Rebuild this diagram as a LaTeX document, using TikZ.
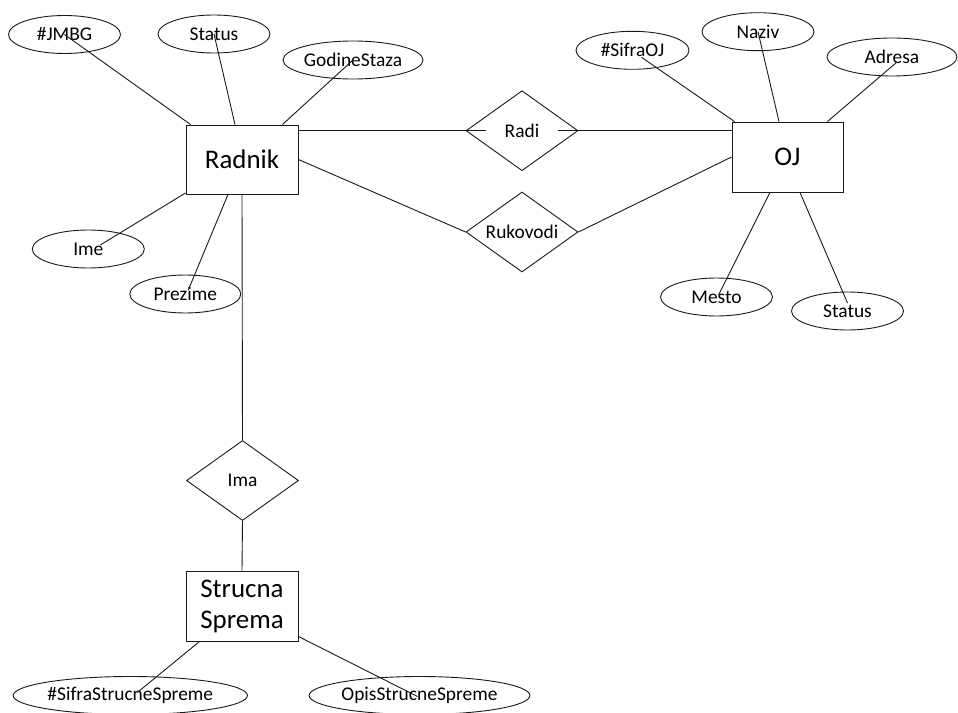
\documentclass[tikz,border=0pt]{standalone}
\usepackage{fontspec}
\setmainfont{Carlito}
\usetikzlibrary{shapes.geometric}
\begin{document}
\begin{tikzpicture}[x=1bp, y=-1bp, line width=0.9bp, draw=black!90, text=black,
  entity/.style={draw, rectangle, inner sep=0pt, align=center,
    font=\fontsize{27}{31}\selectfont},
  attr/.style={draw, ellipse, inner sep=0pt, minimum height=38bp,
    font=\fontsize{19.5}{22}\selectfont},
  rel/.style={draw, diamond, inner sep=0pt, minimum width=112bp, minimum height=80bp},
  rellabel/.style={inner sep=0pt, font=\fontsize{19.5}{22}\selectfont}]
\path[use as bounding box] (0,0) rectangle (958,713);
\clip (0,0) rectangle (958,713);

% entities
\node[entity, minimum width=112bp, minimum height=69bp] (radnik) at (242,159.5) {Radnik};
\node[entity, minimum width=111bp, minimum height=70bp] (oj) at (787.5,157) {OJ};
\node[entity, minimum width=112bp, minimum height=70bp] (strucna) at (242,606) {Strucna\\Sprema};

% relationships
\node[rel] (radi) at (522,130.7) {};
\node[rel] (rukovodi) at (522,232) {};
\node[rel] (ima) at (242.5,480.5) {};

% attributes of Radnik
\node[attr, minimum width=112bp] (jmbg) at (64.5,34.5) {\#JMBG};
\node[attr, minimum width=112bp] (rstatus) at (214,34) {Status};
\node[attr, minimum width=140bp] (godine) at (353,60) {GodineStaza};
\node[attr, minimum width=112bp] (ime) at (88.3,249) {Ime};
\node[attr, minimum width=111bp] (prezime) at (185.3,294) {Prezime};

% attributes of OJ
\node[attr, minimum width=113bp] (sifraoj) at (632.5,50.3) {\#SifraOJ};
\node[attr, minimum width=112bp] (naziv) at (758,31.7) {Naziv};
\node[attr, minimum width=130bp] (adresa) at (892,57) {Adresa};
\node[attr, minimum width=112bp] (mesto) at (716.5,297) {Mesto};
\node[attr, minimum width=112bp] (ojstatus) at (847.5,311) {Status};

% attributes of Strucna Sprema
\node[attr, minimum width=196bp] (sifrass) at (130.3,695.5) {\#SifraStrucneSpreme};
\node[attr, minimum width=188bp] (opisss) at (419.5,695.5) {OpisStrucneSpreme};

% attribute links
\draw ([xshift=5bp]radnik.north west) -- (jmbg.center);
\draw ([xshift=-7bp]radnik.north) -- (rstatus.center);
\draw ([xshift=-16bp]radnik.north east) -- (godine.center);
\draw ([yshift=1.5bp]radnik.south west) -- ([xshift=12bp,yshift=4bp]ime.center);
\draw ([xshift=-14bp]radnik.south) -- ([xshift=3bp,yshift=4bp]prezime.center);

\draw ([xshift=3bp]oj.north west) -- ([xshift=9bp,yshift=-7bp]sifraoj.center);
\draw ([xshift=-8.5bp]oj.north) -- (naziv.center);
\draw ([xshift=-16bp]oj.north east) -- ([xshift=5bp,yshift=-5bp]adresa.center);
\draw ([xshift=-17.5bp]oj.south) -- ([xshift=2bp,yshift=2bp]mesto.center);
\draw ([xshift=12.5bp]oj.south) -- ([yshift=8bp]ojstatus.center);

\draw ([xshift=14bp]strucna.south west) -- ([xshift=7bp,yshift=3bp]sifrass.center);
\draw ([yshift=5bp]strucna.south east) -- ([xshift=-2bp,yshift=-1bp]opisss.center);

% relationship links
\draw (radnik.east |- radi.center) -- (oj.west |- radi.center);
\draw (radnik.east) -- (rukovodi.west);
\draw (rukovodi.east) -- (oj.west);
\draw (radnik.south) -- (ima.north);
\draw (ima.south) -- (strucna.north);

% relationship labels
\node[rellabel, fill=white, minimum width=72bp, minimum height=22bp] (radilbl) at (radi.center) {Radi};
\node[rellabel] (rukovodilbl) at (rukovodi.center) {Rukovodi};
\node[rellabel] (imalbl) at (ima.center) {Ima};
\end{tikzpicture}
\end{document}
